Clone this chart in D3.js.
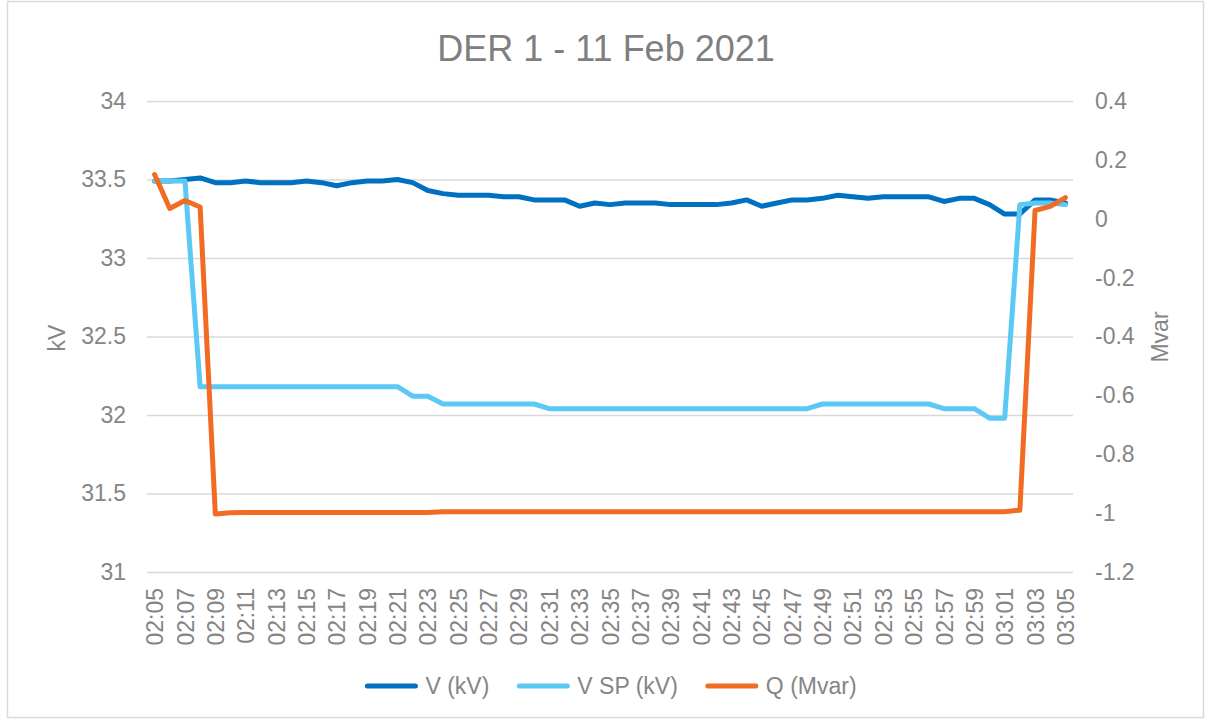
<!DOCTYPE html>
<html>
<head>
<meta charset="utf-8">
<script src="https://cdn.jsdelivr.net/npm/d3@7"></script>
<style>
  body { margin: 0; background: #fff; }
  svg { display: block; font-family: "Liberation Sans", Arial, sans-serif; }
</style>
</head>
<body>
<div id="chart"></div>
<script>
// categories: one point per minute
const times = [
  "02:05","02:06","02:07","02:08","02:09","02:10","02:11","02:12","02:13","02:14",
  "02:15","02:16","02:17","02:18","02:19","02:20","02:21","02:22","02:23","02:24",
  "02:25","02:26","02:27","02:28","02:29","02:30","02:31","02:32","02:33","02:34",
  "02:35","02:36","02:37","02:38","02:39","02:40","02:41","02:42","02:43","02:44",
  "02:45","02:46","02:47","02:48","02:49","02:50","02:51","02:52","02:53","02:54",
  "02:55","02:56","02:57","02:58","02:59","03:00","03:01","03:02","03:03","03:04",
  "03:05"
];

// V (kV)
const vKV = [
  33.49, 33.49, 33.50, 33.51, 33.48, 33.48, 33.49, 33.48, 33.48, 33.48,
  33.49, 33.48, 33.46, 33.48, 33.49, 33.49, 33.50, 33.48, 33.43, 33.41,
  33.40, 33.40, 33.40, 33.39, 33.39, 33.37, 33.37, 33.37, 33.33, 33.35,
  33.34, 33.35, 33.35, 33.35, 33.34, 33.34, 33.34, 33.34, 33.35, 33.37,
  33.33, 33.35, 33.37, 33.37, 33.38, 33.40, 33.39, 33.38, 33.39, 33.39,
  33.39, 33.39, 33.36, 33.38, 33.38, 33.34, 33.28, 33.28, 33.37, 33.37,
  33.35
];

// V SP (kV)
const vSP = [
  33.49, 33.49, 33.49, 32.18, 32.18, 32.18, 32.18, 32.18, 32.18, 32.18,
  32.18, 32.18, 32.18, 32.18, 32.18, 32.18, 32.18, 32.12, 32.12, 32.07,
  32.07, 32.07, 32.07, 32.07, 32.07, 32.07, 32.04, 32.04, 32.04, 32.04,
  32.04, 32.04, 32.04, 32.04, 32.04, 32.04, 32.04, 32.04, 32.04, 32.04,
  32.04, 32.04, 32.04, 32.04, 32.07, 32.07, 32.07, 32.07, 32.07, 32.07,
  32.07, 32.07, 32.04, 32.04, 32.04, 31.98, 31.98, 33.34, 33.35, 33.35,
  33.34
];

// Q (Mvar), right axis
const qMvar = [
  0.150, 0.035, 0.062, 0.040, -1.003, -0.999, -0.998, -0.998, -0.998, -0.998,
  -0.998, -0.998, -0.998, -0.998, -0.998, -0.998, -0.998, -0.998, -0.998, -0.995,
  -0.995, -0.995, -0.995, -0.995, -0.995, -0.995, -0.995, -0.995, -0.995, -0.995,
  -0.995, -0.995, -0.995, -0.995, -0.995, -0.995, -0.995, -0.995, -0.995, -0.995,
  -0.995, -0.995, -0.995, -0.995, -0.995, -0.995, -0.995, -0.995, -0.995, -0.995,
  -0.995, -0.995, -0.995, -0.995, -0.995, -0.995, -0.995, -0.990, 0.028, 0.042,
  0.072
];

const leftTicks = [31, 31.5, 32, 32.5, 33, 33.5, 34];
const leftTickLabels = ["31", "31.5", "32", "32.5", "33", "33.5", "34"];
const rightTicks = [-1.2, -1, -0.8, -0.6, -0.4, -0.2, 0, 0.2, 0.4];
const rightTickLabels = ["-1.2", "-1", "-0.8", "-0.6", "-0.4", "-0.2", "0", "0.2", "0.4"];
const xTickLabels = times.filter((d, i) => i % 2 === 0);

const seriesNames = ["V (kV)", "V SP (kV)", "Q (Mvar)"];
const colors = ["#0070c0", "#5bc9f4", "#f26b24"];

// layout
const W = 1206, H = 720;
const plot = {left: 147, right: 1073, top: 101, bottom: 572};
const textColor = "#858585";
const fontSize = 23;

const svg = d3.select("#chart").append("svg")
    .attr("width", W)
    .attr("height", H);

svg.append("rect")
    .attr("x", 7.5).attr("y", 1.5)
    .attr("width", W - 10).attr("height", H - 4)
    .attr("fill", "#fff")
    .attr("stroke", "#d9d9d9")
    .attr("stroke-width", 1.5);

const x = d3.scalePoint()
    .domain(times)
    .range([plot.left, plot.right])
    .padding(0.5);

const yLeft = d3.scaleLinear().domain([31, 34]).range([plot.bottom, plot.top]);
const yRight = d3.scaleLinear().domain([-1.2, 0.4]).range([plot.bottom, plot.top]);

// gridlines
svg.append("g")
    .attr("transform", `translate(${plot.left},0)`)
    .call(d3.axisLeft(yLeft).tickValues(leftTicks)
        .tickSize(-(plot.right - plot.left)).tickFormat(""))
    .call(g => g.select(".domain").remove())
    .call(g => g.selectAll(".tick line")
        .attr("stroke", "#d9d9d9").attr("stroke-width", 1.5));

// left axis
svg.append("g")
    .attr("transform", `translate(${plot.left},0)`)
    .call(d3.axisLeft(yLeft).tickValues(leftTicks).tickSize(0).tickPadding(21)
        .tickFormat((d, i) => leftTickLabels[i]))
    .call(g => g.select(".domain").remove())
    .call(g => g.selectAll("text")
        .attr("fill", textColor).style("font-size", fontSize + "px")
        .style("font-family", "'Liberation Sans', Arial, sans-serif"));

// right axis
svg.append("g")
    .attr("transform", `translate(${plot.right},0)`)
    .call(d3.axisRight(yRight).tickValues(rightTicks).tickSize(0).tickPadding(22)
        .tickFormat((d, i) => rightTickLabels[i]))
    .call(g => g.select(".domain").remove())
    .call(g => g.selectAll("text")
        .attr("fill", textColor).style("font-size", fontSize + "px")
        .style("font-family", "'Liberation Sans', Arial, sans-serif"));

// x axis, rotated labels
svg.append("g")
    .attr("transform", `translate(0,${plot.bottom})`)
    .call(d3.axisBottom(x).tickValues(xTickLabels).tickSize(0))
    .call(g => g.select(".domain").remove())
    .call(g => g.selectAll("text")
        .attr("fill", textColor).style("font-size", fontSize + "px")
        .style("font-family", "'Liberation Sans', Arial, sans-serif")
        .attr("transform", "rotate(-90)")
        .attr("text-anchor", "end")
        .attr("x", -16).attr("y", 0).attr("dy", "0.35em"));

// axis titles
svg.append("text")
    .attr("transform", "translate(65,338) rotate(-90)")
    .attr("text-anchor", "middle")
    .attr("fill", textColor).style("font-size", fontSize + "px")
    .text("kV");

svg.append("text")
    .attr("transform", "translate(1168,337) rotate(-90)")
    .attr("text-anchor", "middle")
    .attr("fill", textColor).style("font-size", fontSize + "px")
    .text("Mvar");

// title
svg.append("text")
    .attr("x", 606).attr("y", 61)
    .attr("text-anchor", "middle")
    .attr("fill", "#7f7f7f")
    .style("font-size", "36px")
    .text("DER 1 - 11 Feb 2021");

// lines
const lineLeft = vals => d3.line()
    .x((d, i) => x(times[i]))
    .y(d => yLeft(d))(vals);
const lineRight = vals => d3.line()
    .x((d, i) => x(times[i]))
    .y(d => yRight(d))(vals);

[lineLeft(vKV), lineLeft(vSP), lineRight(qMvar)].forEach((d, i) => {
  svg.append("path")
      .attr("d", d)
      .attr("fill", "none")
      .attr("stroke", colors[i])
      .attr("stroke-width", 5)
      .attr("stroke-linejoin", "round")
      .attr("stroke-linecap", "round");
});

// legend
const legend = svg.append("g");
const items = legend.selectAll("g").data(seriesNames).enter().append("g");
items.append("line")
    .attr("x1", 0).attr("x2", 48)
    .attr("y1", 0).attr("y2", 0)
    .attr("stroke", (d, i) => colors[i])
    .attr("stroke-width", 5)
    .attr("stroke-linecap", "round");
items.append("text")
    .attr("x", 58).attr("dy", "0.35em")
    .attr("fill", textColor).style("font-size", fontSize + "px")
    .text(d => d);

let offset = 0;
const widths = [];
items.each(function () { widths.push(this.getBBox().width); });
const gap = 30;
const total = d3.sum(widths) + gap * (widths.length - 1);
items.attr("transform", (d, i) => {
  const t = `translate(${offset},0)`;
  offset += widths[i] + gap;
  return t;
});
legend.attr("transform", `translate(${612 - total / 2},686)`);
</script>
</body>
</html>
